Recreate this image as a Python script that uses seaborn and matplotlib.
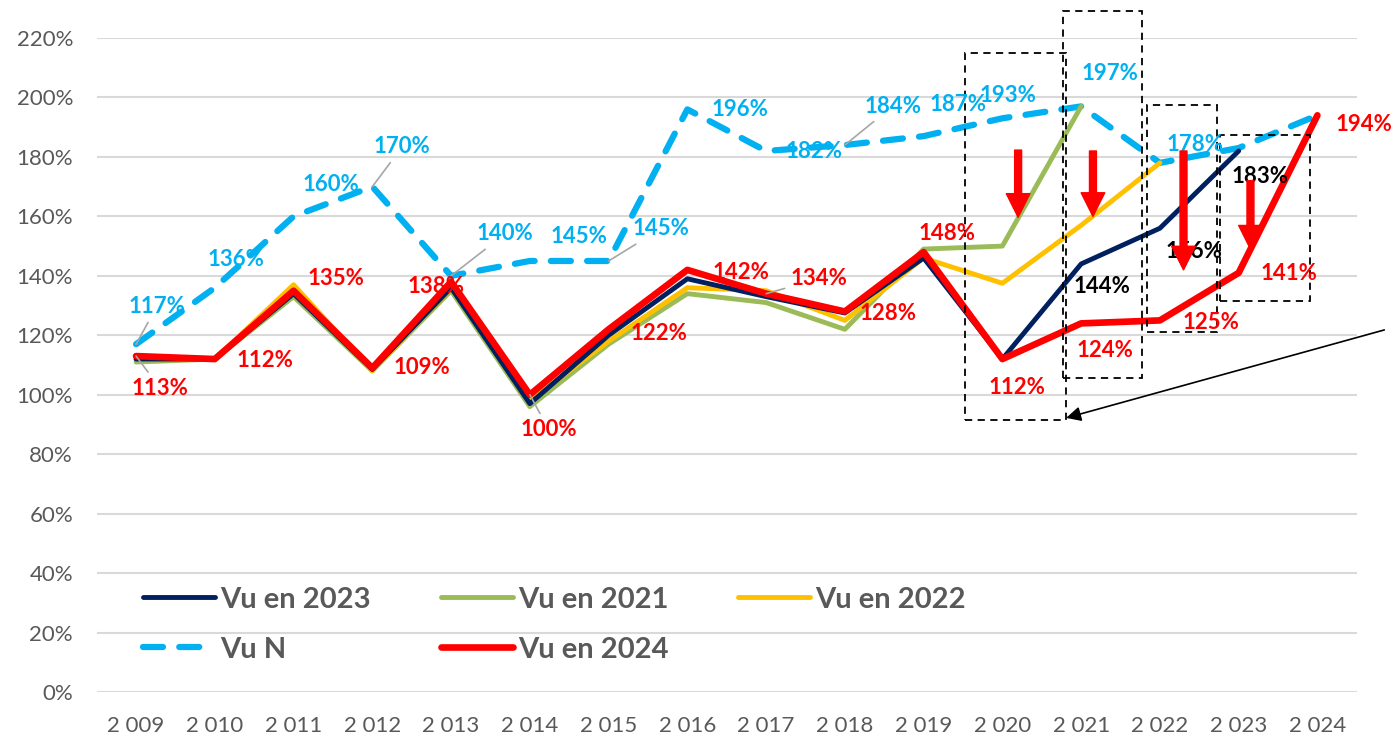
import pandas as pd
import matplotlib.pyplot as plt
import seaborn as sns
from matplotlib.patches import Rectangle

years = ['2 009', '2 010', '2 011', '2 012', '2 013', '2 014', '2 015', '2 016',
         '2 017', '2 018', '2 019', '2 020', '2 021', '2 022', '2 023', '2 024']

vu_n    = [117, 136, 160, 170, 140, 145, 145, 196, 182, 184, 187, 193, 197, 178, 183, 194]
vu_2021 = [111, 112, 133, 108, 135, 96, 117, 134, 131, 122, 149, 150, 197]
vu_2022 = [112, 112, 137, 108, 136, 98, 118, 136, 135, 125, 146, 137.5, 157, 178]
vu_2023 = [112, 112, 134, 108.5, 136, 97, 120, 139, 133, 127.5, 146, 112, 144, 156, 182]
vu_2024 = [113, 112, 135, 109, 138, 100, 122, 142, 134, 128, 148, 112, 124, 125, 141, 194]

# label offsets in pixels (dx, dy) from each point
n_offsets = [(21, 38), (21, 28), (37, 32), (30, 40), (54, 42), (49, 24), (52, 32), (53, 0),
             (48, -1), (48, 39), (34, 32), (6, 23), (29, 33), (35, 18)]
r_offsets = [(24, -32), (50, -1), (42, 12), (50, 0), (-15, -5), (19, -35), (50, -4), (54, -3),
             (53, 15), (43, -2), (23, 19), (15, -28), (24, -27), (51, -2), (50, -1), (47, -9)]
black_idx = [12, 13, 14]
black_offsets = [(21, -23), (34, -23), (21, -26)]

C_NAVY, C_GREEN, C_YEL, C_RED, C_BLUE = '#002060', '#9BBB59', '#FFC000', '#FF0000', '#00B0F0'
GRAY = '#595959'

sns.set_style('white')
plt.rcParams['font.family'] = ['Lato', 'DejaVu Sans']

fig = plt.figure(figsize=(13.93, 7.37), dpi=100)
ax = fig.add_axes([0.0694, 0.0611, 0.9046, 0.8873])

def frame(vals, name):
    return pd.DataFrame({'x': range(len(vals)), 'y': vals, 's': name})

sns.lineplot(data=frame(vu_n, 'Vu N'), x='x', y='y', ax=ax, color=C_BLUE, lw=4.5,
             label='Vu N', zorder=2)
ax.lines[-1].set_dashes((3.2, 2.6))
ax.lines[-1].set_dash_capstyle('round')
sns.lineplot(data=frame(vu_2021, 'Vu en 2021'), x='x', y='y', ax=ax, color=C_GREEN, lw=3.5,
             label='Vu en 2021', zorder=3)
sns.lineplot(data=frame(vu_2022, 'Vu en 2022'), x='x', y='y', ax=ax, color=C_YEL, lw=3.5,
             label='Vu en 2022', zorder=4)
sns.lineplot(data=frame(vu_2023, 'Vu en 2023'), x='x', y='y', ax=ax, color=C_NAVY, lw=3.5,
             label='Vu en 2023', zorder=5)
sns.lineplot(data=frame(vu_2024, 'Vu en 2024'), x='x', y='y', ax=ax, color=C_RED, lw=4.8,
             label='Vu en 2024', zorder=6)

ax.set_xlim(-0.5, 15.5)
ax.set_ylim(0, 220)
ax.set_yticks(range(0, 221, 20))
ax.set_yticklabels([f'{v}%' for v in range(0, 221, 20)])
ax.set_xticks(range(len(years)))
ax.set_xticklabels(years)
ax.tick_params(axis='both', colors=GRAY, labelsize=16, length=0)
ax.tick_params(axis='x', pad=17)
ax.tick_params(axis='y', pad=17)
ax.set_xlabel('')
ax.set_ylabel('')
ax.grid(axis='y', color='#D9D9D9', lw=1.5)
ax.set_axisbelow(True)
sns.despine(ax=ax, left=True, bottom=True)

lab = dict(textcoords='offset pixels', ha='center', va='center', fontsize=16,
           fontweight='bold', zorder=8)
leader = dict(arrowstyle='-', color='#A6A6A6', lw=1.2, shrinkA=2, shrinkB=0)
lead_n = {0, 3, 4, 6, 9}
lead_r = {0, 5, 8}
for i, (v, off) in enumerate(zip(vu_n, n_offsets)):
    ax.annotate(f'{v}%', (i, v), xytext=off, color=C_BLUE,
                arrowprops=leader if i in lead_n else None, **lab)
for i, (v, off) in enumerate(zip(vu_2024, r_offsets)):
    ax.annotate(f'{v}%', (i, v), xytext=off, color=C_RED,
                arrowprops=leader if i in lead_r else None, **lab)
for i, off in zip(black_idx, black_offsets):
    v = round(vu_2023[i]) if i != 14 else 183
    ax.annotate(f'{v}%', (i, vu_2023[i]), xytext=off, color='black', **lab)

# dashed boxes
boxes = [(10.52, 91.5, 1.29, 123.5), (11.77, 105.6, 1.0, 123.4),
         (12.84, 121, 0.88, 76.4), (13.76, 131.5, 1.15, 55.9)]
for bx, by, bw, bh in boxes:
    ax.add_patch(Rectangle((bx, by), bw, bh, fill=False, ec='black', lw=1.3,
                           ls=(0, (4, 3)), clip_on=False, zorder=7))

# red arrows
red_arrows = [((11.2, 182.3), (11.2, 159.7)), ((12.15, 182), (12.15, 160)),
              ((13.3, 182), (13.3, 142)), ((14.15, 172), (14.15, 149))]
for tail, tip in red_arrows:
    ax.annotate('', xy=tip, xytext=tail, zorder=9,
                arrowprops=dict(facecolor=C_RED, edgecolor=C_RED, width=5,
                                headwidth=17, headlength=17, shrink=0))

ax.annotate('', xy=(11.81, 92.2), xytext=(15.85, 121.8), annotation_clip=False,
            arrowprops=dict(arrowstyle='-|>', color='black', lw=1.2, mutation_scale=22,
                            shrinkA=0, shrinkB=0))

h, l = ax.get_legend_handles_labels()
order = ['Vu en 2023', 'Vu N', 'Vu en 2021', 'Vu en 2024', 'Vu en 2022']
hd = dict(zip(l, h))
leg = ax.legend([hd[k] for k in order], order, ncol=3, loc='upper left',
                bbox_to_anchor=(0.037, 0.161), frameon=False, handlelength=2.47,
                columnspacing=2.4, labelspacing=0.82, handletextpad=0.17,
                borderpad=0, borderaxespad=0,
                prop=dict(size=21, weight='bold'))
for t in leg.get_texts():
    t.set_color(GRAY)

fig.savefig('out.png', dpi=100)
